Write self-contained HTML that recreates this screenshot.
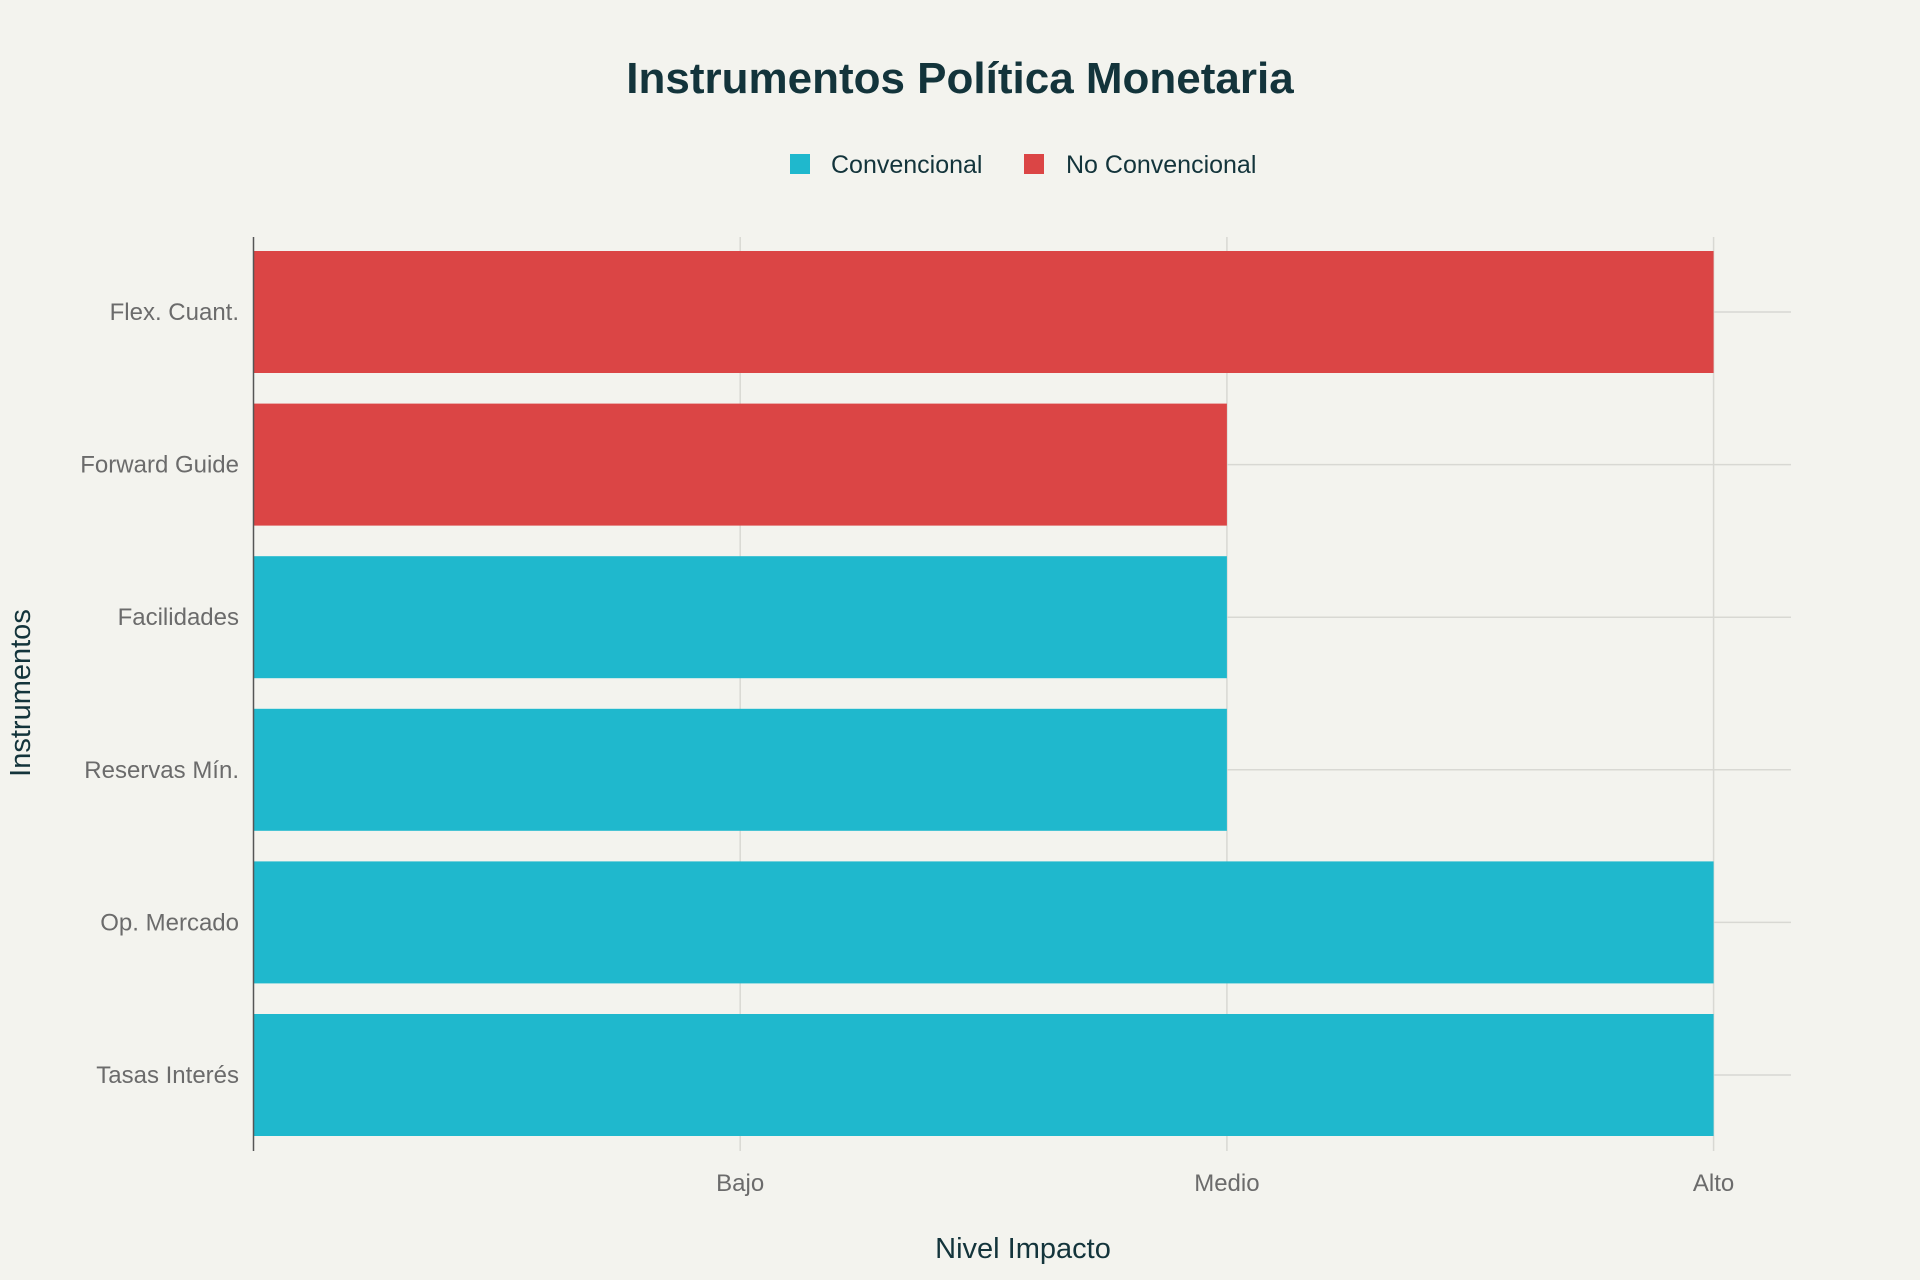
<!DOCTYPE html>
<html><head><meta charset="utf-8"><style>
body{margin:0;background:#F3F3EE;}
svg{display:block;font-family:"Liberation Sans",sans-serif;}
</style></head><body>
<svg id="chart" width="1920" height="1280" viewBox="0 0 1920 1280">
<rect width="1920" height="1280" fill="#F3F3EE"/>
<text x="960" y="93" text-anchor="middle" font-size="44" font-weight="bold" fill="#13343B">Instrumentos Política Monetaria</text>
<g>
<g><rect x="790" y="154" width="20" height="20" fill="#1FB8CD"/><text x="831" y="173" font-size="25" fill="#13343B">Convencional</text></g>
<g><rect x="1024" y="154" width="20" height="20" fill="#DB4545"/><text x="1066" y="173" font-size="25" fill="#13343B">No Convencional</text></g>
</g>
<g id="grid"></g><g id="bars"></g><g id="axes"></g>
<text x="1023" y="1258" text-anchor="middle" font-size="29" fill="#13343B">Nivel Impacto</text>
<text transform="translate(30,693) rotate(-90)" text-anchor="middle" font-size="29" fill="#13343B">Instrumentos</text>
</svg>
<script>
const categories=["Tasas Interés","Op. Mercado","Reservas Mín.","Facilidades","Forward Guide","Flex. Cuant."];
const values=[3,3,2,2,2,3];
const types=["Convencional","Convencional","Convencional","Convencional","No Convencional","No Convencional"];
const tickValues=[1,2,3];
const tickLabels=["Bajo","Medio","Alto"];
const colors={"Convencional":"#1FB8CD","No Convencional":"#DB4545"};
const NS="http://www.w3.org/2000/svg";
const x0=253.5,unit=486.7,right=1791;
const xs=v=>x0+v*unit;
const yTop=312,step=152.6;
const ys=i=>yTop+(categories.length-1-i)*step;
const bh=122;
const grid=document.getElementById('grid'),bars=document.getElementById('bars'),axes=document.getElementById('axes');
function mk(tag,attrs,parent){const e=document.createElementNS(NS,tag);for(const k in attrs)e.setAttribute(k,attrs[k]);parent.appendChild(e);return e;}
tickValues.forEach((v,i)=>{
  const l=mk('line',{x1:xs(v),x2:xs(v),y1:237,y2:1151,stroke:'#D8D8D3','stroke-width':1.5},grid);
  
  
  const t=mk('text',{x:xs(v),y:1191,'text-anchor':'middle','font-size':24,fill:'#6B6B6B'},axes);
  t.textContent=tickLabels[i];
  
  
});
categories.forEach((c,i)=>{
  const l=mk('line',{x1:x0,x2:right,y1:ys(i),y2:ys(i),stroke:'#D8D8D3','stroke-width':1.5},grid);
  
  
  const r=mk('rect',{x:x0,y:ys(i)-bh/2,width:xs(values[i])-x0,height:bh,fill:colors[types[i]]},bars);
  
  
  const t=mk('text',{x:239,y:ys(i)+8,'text-anchor':'end','font-size':24,fill:'#6B6B6B'},axes);
  t.textContent=c;
  
  
});
const ax=mk('line',{x1:x0,x2:x0,y1:237,y2:1151,stroke:'#555','stroke-width':1.5},axes);


</script>
</body></html>
